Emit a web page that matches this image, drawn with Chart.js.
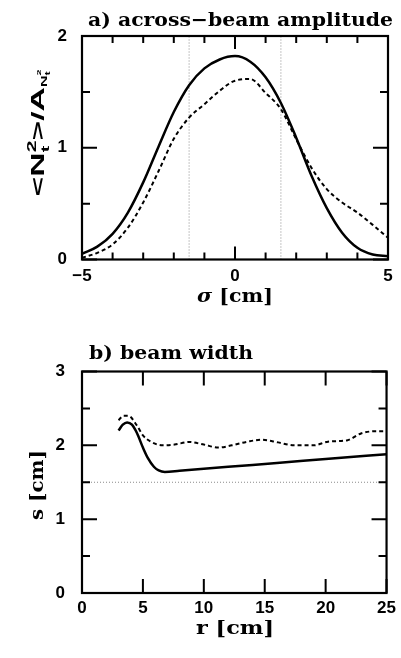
<!DOCTYPE html>
<html>
<head>
<meta charset="utf-8">
<script src="https://cdn.jsdelivr.net/npm/chart.js@4.4.0/dist/chart.umd.min.js"></script>
<style>
  html, body { margin: 0; padding: 0; background: #fff; }
  .panel { position: absolute; left: 0; width: 401px; height: 329px; }
  #wrapA { top: 0; }
  #wrapB { top: 329px; }
</style>
</head>
<body>
<div class="panel" id="wrapA"><canvas id="chartA" width="401" height="329"></canvas></div>
<div class="panel" id="wrapB"><canvas id="chartB" width="401" height="329"></canvas></div>
<script>
// ---- Data: panel a, across-beam amplitude ----
const sigma = [-5, -4.5, -4, -3.5, -3, -2.5, -2, -1.5, -1, -0.5, 0, 0.5, 1, 1.5, 2, 2.5, 3, 3.5, 4, 4.5, 5];
const ampSolid = [0.05, 0.115, 0.23, 0.42, 0.69, 1.01, 1.32, 1.56, 1.71, 1.79, 1.82, 1.77, 1.63, 1.4, 1.09, 0.75, 0.46, 0.24, 0.105, 0.045, 0.03];
const ampDotted = [0.015, 0.06, 0.135, 0.285, 0.51, 0.79, 1.08, 1.27, 1.39, 1.51, 1.6, 1.615, 1.49, 1.345, 1.076, 0.82, 0.63, 0.51, 0.42, 0.31, 0.195];
const sigmaMarks = [-1.5, 1.5];

// ---- Data: panel b, beam width ----
const rSolid = [3.0, 3.35, 3.7, 4.1, 4.5, 5.0, 5.4, 5.9, 6.3, 6.8, 8, 12, 16, 20, 25];
const sSolid = [2.2, 2.28, 2.31, 2.28, 2.17, 1.97, 1.83, 1.71, 1.66, 1.64, 1.655, 1.71, 1.76, 1.815, 1.88];
const rDotted = [3.0, 3.4, 3.8, 4.5, 5.0, 5.7, 6.6, 7.6, 8.8, 10, 11.2, 12.3, 13.6, 14.7, 16.1, 17.4, 19, 20.2, 21.8, 22.9, 24, 25];
const sDotted = [2.34, 2.4, 2.4, 2.27, 2.135, 2.045, 2.0, 2.01, 2.045, 2.01, 1.97, 2.0, 2.05, 2.075, 2.04, 2.0, 2.0, 2.05, 2.07, 2.16, 2.19, 2.19];
const widthMark = 1.5;

const SERIF = '"DejaVu Serif", serif';
const SANS = '"Liberation Sans", Arial, sans-serif';

function pts(xs, ys) { return xs.map((x, i) => ({ x, y: ys[i] })); }

// draw a run of text pieces (different fonts / offsets), squeezed to width w if given.
// a piece with stack:true starts at the same x as the piece before it (super over sub).
function drawPieces(ctx, pieces, x, y, align, w) {
  const starts = [];
  let cur = 0, prevStart = 0, prevEnd = 0;
  pieces.forEach((p) => {
    ctx.font = p.font;
    const m = ctx.measureText(p.t).width;
    const s = p.stack ? prevStart : cur;
    starts.push(s);
    const end = s + m;
    cur = p.stack ? Math.max(prevEnd, end) : end;
    prevStart = s;
    prevEnd = cur;
  });
  const total = cur;
  const sx = w ? w / total : 1;
  ctx.save();
  ctx.translate(x, y);
  ctx.scale(sx, 1);
  const x0 = align === "center" ? -total / 2 : 0;
  ctx.fillStyle = "#000";
  ctx.textBaseline = "alphabetic";
  ctx.textAlign = "left";
  pieces.forEach((p, i) => {
    ctx.font = p.font;
    ctx.fillText(p.t, x0 + starts[i], p.dy || 0);
  });
  ctx.restore();
}

// frame + inward ticks, like the original plot box
function frameTicks(cfg) {
  return {
    id: "frameTicks",
    afterDraw(chart) {
      const { ctx, chartArea: a, scales } = chart;
      ctx.save();
      ctx.strokeStyle = "#000";
      ctx.lineWidth = 2;
      scales.x.ticks.forEach((t) => {
        const px = scales.x.getPixelForValue(t.value);
        const len = cfg.xMajor(t.value) ? cfg.xLong : cfg.xShort;
        ctx.beginPath();
        ctx.moveTo(px, a.bottom); ctx.lineTo(px, a.bottom - len);
        ctx.moveTo(px, a.top); ctx.lineTo(px, a.top + len);
        ctx.stroke();
      });
      scales.y.ticks.forEach((t) => {
        const py = scales.y.getPixelForValue(t.value);
        const len = Number.isInteger(t.value) ? cfg.yLong : cfg.yShort;
        ctx.beginPath();
        ctx.moveTo(a.left, py); ctx.lineTo(a.left + len, py);
        ctx.moveTo(a.right, py); ctx.lineTo(a.right - len, py);
        ctx.stroke();
      });
      ctx.lineWidth = 2.2;
      ctx.strokeRect(a.left, a.top, a.right - a.left, a.bottom - a.top);
      ctx.restore();
      cfg.labels(ctx);
    },
  };
}

function baseOptions(o) {
  return {
    responsive: false,
    animation: false,
    layout: { padding: { top: o.top, right: 13, bottom: 0, left: 0 } },
    plugins: { legend: { display: false }, tooltip: { enabled: false } },
    elements: { point: { radius: 0 }, line: { cubicInterpolationMode: "monotone" } },
    scales: {
      x: {
        type: "linear", min: o.xMin, max: o.xMax,
        grid: { display: false, drawTicks: false }, border: { display: false },
        ticks: {
          stepSize: o.xStep, padding: o.xPad, color: "#000", maxRotation: 0, autoSkip: false,
          font: { family: SANS, size: 17, weight: "bold" },
          callback: o.xLabel,
        },
        afterFit: (s) => { s.height = 329 - o.bottom; },
      },
      y: {
        min: o.yMin, max: o.yMax,
        grid: { display: false, drawTicks: false }, border: { display: false },
        ticks: {
          stepSize: 0.5, padding: o.yPad, color: "#000", autoSkip: false,
          font: { family: SANS, size: 17, weight: "bold" },
          callback: (v) => (Number.isInteger(v) ? String(v) : ""),
        },
        afterFit: (s) => { s.width = 82; },
      },
    },
  };
}

function solidSet(data) {
  return { data, borderColor: "#000", borderWidth: 2.5, fill: false };
}
function dottedSet(data) {
  return { data, borderColor: "#000", borderWidth: 2, borderDash: [4, 3], fill: false };
}
function markSet(data) {
  return { data, borderColor: "#8a8a8a", borderWidth: 1, borderDash: [1, 2], fill: false, cubicInterpolationMode: "default" };
}

// ---- Panel a ----
const optsA = baseOptions({
  top: 36, bottom: 259.5, xMin: -5, xMax: 5, xStep: 1, yMin: 0, yMax: 2, xPad: 7, yPad: 15,
  xLabel: (v) => (v % 5 === 0 ? String(v).replace("-", "\u2212") : ""),
});
new Chart(document.getElementById("chartA"), {
  type: "line",
  data: {
    datasets: [
      solidSet(pts(sigma, ampSolid)),
      dottedSet(pts(sigma, ampDotted)),
      ...sigmaMarks.map((m) => markSet([{ x: m, y: 0 }, { x: m, y: 2 }])),
    ],
  },
  options: optsA,
  plugins: [frameTicks({
    xMajor: (v) => v % 5 === 0, xLong: 13, xShort: 7, yLong: 15, yShort: 8,
    labels(ctx) {
      drawPieces(ctx, [{ t: "a) across\u2212beam amplitude", font: `bold 19px ${SERIF}` }], 88, 26, "left", 305);
      drawPieces(ctx, [
        { t: "\u03c3", font: `italic bold 19px ${SERIF}` },
        { t: " [cm]", font: `bold 19px ${SERIF}` },
      ], 235, 302, "center", 76);
      ctx.save();
      ctx.translate(37, 133);
      ctx.rotate(-Math.PI / 2);
      drawPieces(ctx, [
        { t: "<N", font: `bold 19px ${SANS}` },
        { t: "2", font: `bold 12px ${SANS}`, dy: -8 },
        { t: "t", font: `bold 11px ${SANS}`, dy: 5, stack: true },
        { t: ">", font: `bold 19px ${SANS}` },
        { t: "/", font: `bold 19px ${SANS}` },
        { t: "A", font: `bold 19px ${SANS}` },
        { t: "N", font: `bold 9px ${SANS}`, dy: 3 },
        { t: "2", font: `bold 6px ${SANS}`, dy: -3 },
        { t: "t", font: `bold 7px ${SANS}`, dy: 6, stack: true },
      ], 0, 7, "center", 127);
      ctx.restore();
    },
  })],
});

// ---- Panel b ----
const optsB = baseOptions({
  top: 42.5, bottom: 264, xMin: 0, xMax: 25, xStep: 5, yMin: 0, yMax: 3, xPad: 5, yPad: 17,
  xLabel: (v) => String(v),
});
new Chart(document.getElementById("chartB"), {
  type: "line",
  data: {
    datasets: [
      solidSet(pts(rSolid, sSolid)),
      dottedSet(pts(rDotted, sDotted)),
      markSet([{ x: 0, y: widthMark }, { x: 25, y: widthMark }]),
    ],
  },
  options: optsB,
  plugins: [frameTicks({
    xMajor: () => true, xLong: 14, xShort: 14, yLong: 15, yShort: 8,
    labels(ctx) {
      drawPieces(ctx, [{ t: "b) beam width", font: `bold 19px ${SERIF}` }], 89, 30, "left", 164);
      drawPieces(ctx, [{ t: "r [cm]", font: `bold 19px ${SERIF}` }], 235, 305, "center", 78);
      ctx.save();
      ctx.translate(36, 156);
      ctx.rotate(-Math.PI / 2);
      drawPieces(ctx, [{ t: "s [cm]", font: `bold 19px ${SERIF}` }], 0, 7, "center", 70);
      ctx.restore();
    },
  })],
});
</script>
</body>
</html>
